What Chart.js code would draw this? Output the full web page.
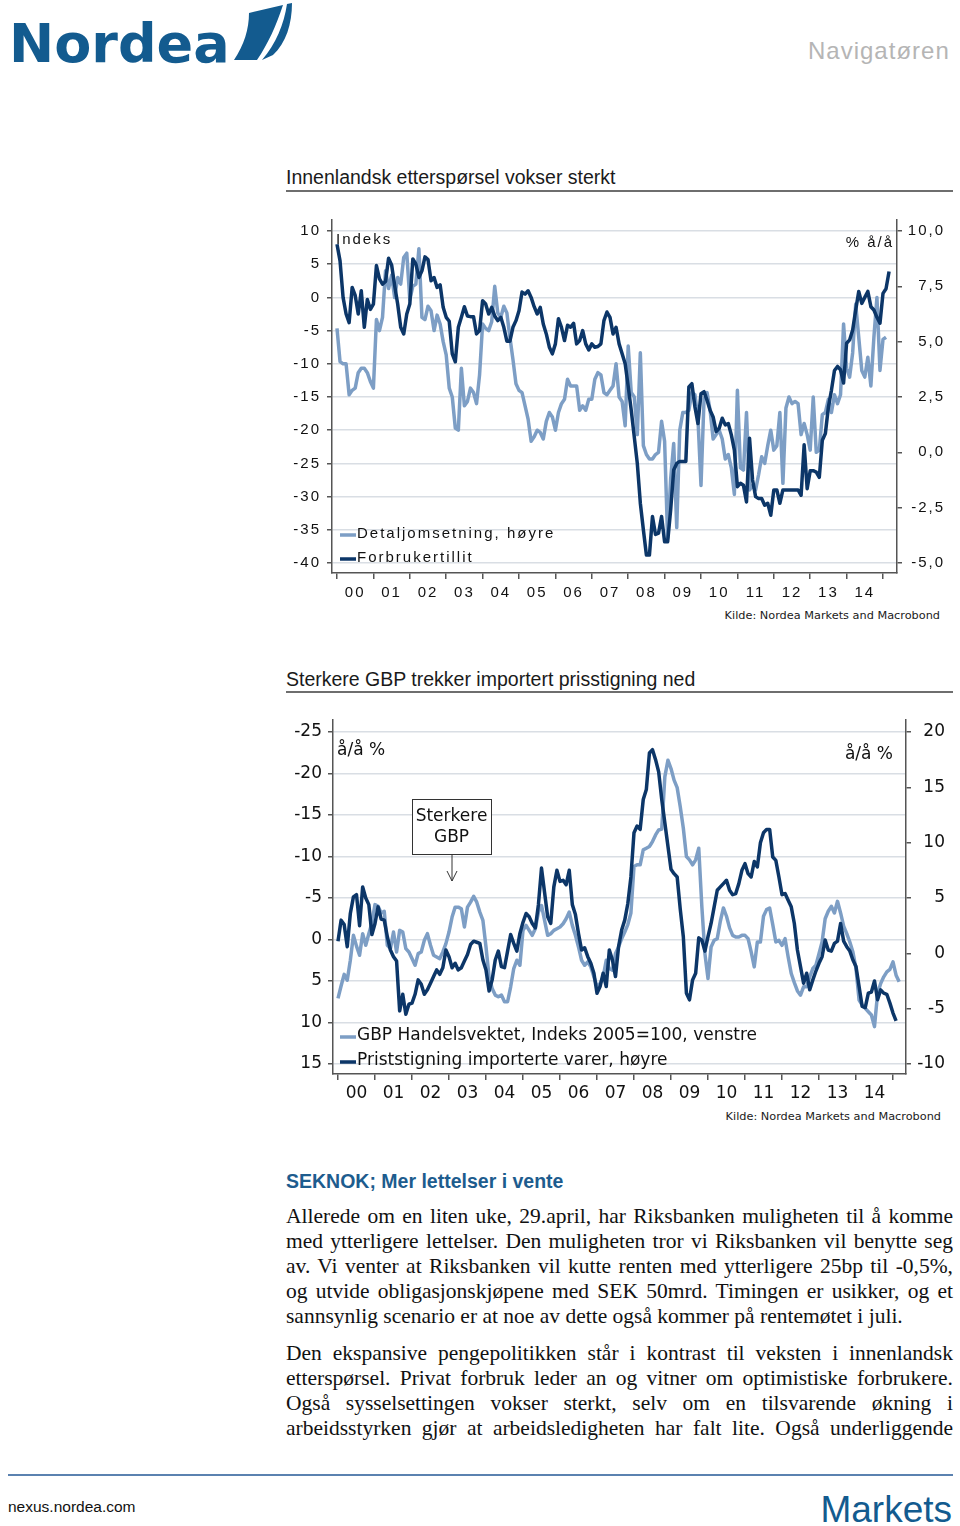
<!doctype html>
<html lang="no">
  <head>
    <meta charset="utf-8">
    <title>Navigatøren</title>
    <style>
      * {
        margin: 0;
        padding: 0;
      }
      body {
        width: 960px;
        height: 1526px;
        position: relative;
        overflow: hidden;
        background: #fff;
        color: #1a1a1a;
        font-family: 'Liberation Sans', Arial, sans-serif;
      }
      .abs {
        position: absolute;
        white-space: nowrap;
      }
      .title {
        left: 286px;
        font-size: 19.5px;
        line-height: 24px;
      }
      .rule {
        position: absolute;
        left: 286px;
        width: 667px;
        height: 2px;
        background: #6e6e6e;
      }
      .kilde {
        font-family: 'DejaVu Sans', Verdana, sans-serif;
        font-size: 11.3px;
        line-height: 14px;
      }
      .chart {
        position: absolute;
        left: 286px;
      }
      .lead {
        left: 286px;
        font-size: 19.5px;
        line-height: 24px;
        font-weight: bold;
        color: #1d5c8e;
      }
      .para {
        position: absolute;
        left: 286px;
        width: 667px;
        font-family: 'Liberation Serif', 'Times New Roman', serif;
        font-size: 21.5px;
        line-height: 25px;
        color: #111;
      }
      .para div {
        text-align: justify;
        text-align-last: justify;
      }
      .para div.end {
        text-align-last: left;
      }
    </style>
  </head>
  <body>
    <svg class="abs" style="left:0;top:0" width="960" height="80">
      <text x="9" y="62" font-family="'DejaVu Sans', sans-serif" font-weight="bold" font-size="54" fill="#135b8f">Nordea</text>
      <path d="M234 60 C244 45 249 29 249 13 L283 5 C276 26 268 44 257 60 Z" fill="#135b8f"/>
      <path d="M287 4 L292 3 C292 24 286 43 273 55 L262 60 C276 44 284 24 287 4 Z" fill="#135b8f"/>
      <text x="808" y="59" font-family="'Liberation Sans', Arial, sans-serif" font-size="24" letter-spacing="1" fill="#b5b5b5">Navigatøren</text>
    </svg>

    <div class="abs title" style="top:165px">Innenlandsk etterspørsel vokser sterkt</div>
    <div class="rule" style="top:190px"></div>
    <canvas id="chart1" class="chart" width="667" height="395" style="top:212px"></canvas>
    <div class="abs kilde" style="right:20px;top:609px">Kilde: Nordea Markets and Macrobond</div>

    <div class="abs title" style="top:667px">Sterkere GBP trekker importert prisstigning ned</div>
    <div class="rule" style="top:691px"></div>
    <canvas id="chart2" class="chart" width="667" height="396" style="top:712px"></canvas>
    <div class="abs kilde" style="right:19px;top:1110px">Kilde: Nordea Markets and Macrobond</div>

    <div class="abs lead" style="top:1169px">SEKNOK; Mer lettelser i vente</div>
    <div class="para" style="top:1204px">
      <div>Allerede om en liten uke, 29.april, har Riksbanken muligheten til å komme</div>
      <div>med ytterligere lettelser. Den muligheten tror vi Riksbanken vil benytte seg</div>
      <div>av. Vi venter at Riksbanken vil kutte renten med ytterligere 25bp til -0,5%,</div>
      <div>og utvide obligasjonskjøpene med SEK 50mrd. Timingen er usikker, og et</div>
      <div class="end">sannsynlig scenario er at noe av dette også kommer på rentemøtet i juli.</div>
    </div>
    <div class="para" style="top:1341px">
      <div>Den ekspansive pengepolitikken står i kontrast til veksten i innenlandsk</div>
      <div>etterspørsel. Privat forbruk leder an og vitner om optimistiske forbrukere.</div>
      <div>Også sysselsettingen vokser sterkt, selv om en tilsvarende økning i</div>
      <div>arbeidsstyrken gjør at arbeidsledigheten har falt lite. Også underliggende</div>
    </div>

    <div class="abs" style="left:8px;top:1474px;width:945px;height:2px;background:#5b82b0"></div>
    <svg class="abs" style="left:0;top:1480px" width="960" height="46">
      <text x="8" y="31.5" font-family="'Liberation Sans', Arial, sans-serif" font-size="15.5" fill="#111">nexus.nordea.com</text>
      <text x="952" y="42" text-anchor="end" font-family="'Liberation Sans', Arial, sans-serif" font-size="37" fill="#135b8f">Markets</text>
    </svg>

    <script src="https://cdn.jsdelivr.net/npm/chart.js"></script>
    <script>
    // monthly series, first value = January 2000
    const startYear = 2000;
    const yearLabels = ['00', '01', '02', '03', '04', '05', '06', '07', '08', '09', '10', '11', '12', '13', '14'];

    // chart 1: Forbrukertillit (indeks, left) and Detaljomsetning (% å/å, right)
    const forbrukertillit = [
      8.0, 5.5, 0.0, -2.5, -3.8, 1.5, 0.3, -2.5, 1.0, -4.5, -0.3, -1.8, -1.0, 4.8, 2.8, 2.0, 2.4, 5.9, 4.9, 1.8,
      -1.0, -4.5, -5.5, -2.5, -1.0, 5.8, 5.0, 3.0, 4.0, 6.1, 5.7, 2.5, 3.0, 1.5, 1.9, -1.5, -3.0, -3.6, -8.5, -9.7,
      -4.5, -3.0, -1.4, -2.8, -2.9, -2.9, -5.5, -5.0, -0.5, -1.0, -2.5, -1.5, -2.8, -3.5, -3.0, -4.5, -6.6, -6.6, -4.5, -3.5,
      -2.0, 0.8, 0.5, 1.0, 0.0, -1.4, -2.5, -1.5, -4.0, -5.5, -7.5, -8.5, -7.0, -3.2, -4.5, -6.5, -4.2, -4.5, -3.9, -7.0,
      -6.5, -5.0, -7.0, -7.9, -7.0, -7.5, -7.4, -7.0, -3.5, -2.2, -3.0, -5.5, -4.5, -7.0, -8.5, -10.0, -13.4, -17.0, -21.0, -25.0,
      -31.0, -35.0, -38.8, -38.8, -33.0, -35.7, -35.5, -33.0, -36.8, -36.8, -32.0, -26.0, -25.0, -24.7, -24.7, -24.7, -13.5, -13.0, -16.5, -19.0,
      -14.5, -14.2, -15.5, -17.0, -18.0, -20.2, -19.7, -18.2, -19.2, -19.0, -20.7, -23.0, -28.5, -28.0, -28.3, -30.8, -21.2, -27.5, -30.0, -30.3,
      -30.3, -31.3, -31.0, -32.8, -29.0, -29.0, -31.0, -29.0, -29.0, -29.0, -29.0, -29.0, -29.0, -29.8, -22.2, -28.8, -26.1, -26.1, -26.3, -27.1,
      -21.5, -20.5, -16.5, -14.0, -11.0, -10.4, -10.9, -12.9, -6.9, -6.4, -4.9, -1.9, 0.9, -0.9, 0.0, 0.9, -1.4, -1.9, -3.0, -3.9,
      0.6, 1.3, 3.9
    ];
    const detaljomsetning = [
      5.6, 4.1, 4.0, 4.0, 2.6, 2.8, 2.9, 3.6, 3.8, 3.8, 3.6, 3.2, 2.9, 6.0, 5.5, 6.1, 8.2, 7.4, 8.0, 7.0,
      7.9, 7.6, 8.8, 9.0, 6.9, 7.5, 7.6, 9.2, 6.1, 6.0, 6.6, 6.4, 5.5, 6.2, 5.8, 5.0, 4.4, 2.9, 2.5, 1.1,
      1.0, 3.8, 2.1, 2.3, 2.9, 2.7, 2.2, 3.5, 5.8, 5.6, 5.5, 5.9, 7.5, 6.3, 6.1, 6.6, 6.3, 5.2, 4.2, 3.1,
      2.8, 2.7, 2.1, 1.5, 0.5, 0.7, 1.0, 0.9, 0.6, 1.4, 1.8, 1.6, 1.0, 1.8, 2.2, 2.4, 3.3, 3.0, 3.0, 3.0,
      1.9, 2.1, 1.9, 2.4, 2.4, 3.3, 3.6, 3.5, 2.7, 2.6, 2.8, 3.0, 4.0, 2.5, 2.3, 1.2, 4.8, 2.7, 2.5, 0.8,
      4.5, 0.3, -0.1, -0.3, -0.3, -0.1, 0.0, 1.4, 0.5, -3.9, -1.2, 0.4, -3.4, 1.0, 1.8, 1.8, 1.9, 2.7, 2.6, 1.5,
      -1.5, 2.4, 2.7, 1.9, 0.6, 0.8, 1.0, 0.6, -0.3, -0.1, -0.7, -1.9, 2.8, -0.7, -0.8, 1.8, -1.7, -1.5, -1.7, -1.0,
      -0.2, -0.5, 0.3, 1.0, 0.1, 0.3, 1.8, -1.4, 2.0, 2.5, 2.2, 2.3, 2.2, 0.8, 1.3, 0.8, 0.1, 2.5, 0.0, 0.1,
      1.7, 1.8, 2.4, 1.8, 2.6, 2.2, 2.6, 5.8, 3.8, 3.4, 4.5, 6.7, 5.2, 3.7, 3.4, 4.3, 3.0, 5.2, 7.0, 3.7,
      5.1, 5.2
    ];
    const tillitTicks = [-40, -35, -30, -25, -20, -15, -10, -5, 0, 5, 10];
    const detaljTicks = [-5, -2.5, 0, 2.5, 5, 7.5, 10];

    // chart 2: GBP handelsvektet (left, inverted) and import prices (% å/å, right)
    const gbpIndeks = [
      7.1, 5.6, 4.2, 4.9, 2.5, -0.5, 0.8, 1.9, -0.7, 0.7, -0.7, -2.0, -4.2, -4.0, -3.2, -3.4, 0.7, 1.1, -0.9, 1.5,
      -1.1, -0.9, 1.1, 1.5, 2.3, 3.1, 1.7, 1.5, 0.1, -0.7, 0.7, 1.9, 2.1, 2.3, 1.5, 0.5, -0.9, -2.7, -3.9, -3.9,
      -3.7, -1.5, -3.9, -4.5, -5.2, -4.5, -3.3, -2.3, 0.9, 4.5, 5.9, 6.7, 6.9, 6.7, 7.5, 7.5, 5.7, 3.5, 2.5, 3.1,
      -1.1, -1.7, -1.1, -0.5, -1.3, -3.3, -4.1, -2.3, -0.5, -0.7, -1.1, -1.3, -1.5, -1.9, -2.5, -3.3, -1.7, -0.5, 0.9, 2.5,
      3.1, 2.7, 3.3, 4.5, 5.7, 5.3, 4.5, 2.5, 3.5, 3.7, 1.7, 0.9, -0.1, -0.9, -1.8, -3.2, -8.8, -9.0, -9.0, -10.8,
      -11.0, -11.2, -11.8, -12.6, -13.2, -13.3, -19.6, -21.6, -20.6, -19.2, -18.3, -16.0, -13.4, -10.0, -9.6, -9.0, -9.6, -11.0, -4.0, 1.7,
      4.7, 0.9, 0.1, -0.1, -2.2, -3.8, -2.8, -1.4, -0.5, -0.3, -0.3, -0.5, -0.5, -0.1, 1.5, 3.3, 0.3, 0.3, -2.8, -3.6,
      -3.8, -1.8, 0.3, 0.1, 0.7, -0.1, 2.1, 4.1, 5.2, 6.2, 6.7, 5.7, 5.7, 4.5, 3.5, 3.1, 1.7, 0.3, -2.5, -3.4,
      -4.0, -3.2, -4.6, -3.2, -1.6, -0.7, 0.3, 1.5, 3.5, 7.3, 7.9, 8.3, 8.7, 9.1, 10.5, 6.5, 5.3, 4.5, 3.9, 3.6,
      2.7, 4.3, 5.1
    ];
    const importPriser = [
      1.1, 3.0, 2.6, 0.6, 3.6, 5.1, 5.3, 2.5, 6.0, 5.0, 4.4, 1.7, 2.7, 4.2, 3.1, 3.0, 1.5, 0.3, -0.3, -0.7,
      -5.2, -3.7, -5.5, -4.6, -4.5, -3.7, -2.4, -2.8, -3.7, -3.3, -2.7, -2.1, -1.5, -1.9, -1.3, 0.3, -0.3, -1.3, -0.9, -1.5,
      -1.3, -0.7, -0.1, 0.8, 1.1, 1.0, 0.9, -0.6, -1.5, -3.4, -2.4, -0.6, 0.2, -1.2, -1.3, 0.2, 1.7, 0.9, 0.2, 1.8,
      2.8, 3.6, 3.3, 2.7, 2.3, 4.4, 7.7, 5.5, 3.3, 2.7, 6.0, 7.5, 6.5, 6.6, 6.2, 7.5, 4.4, 3.5, 1.8, 0.3,
      0.5, -0.3, -0.9, -1.8, -3.6, -3.0, -1.8, -3.0, 0.3, -0.6, -2.1, 0.6, 2.1, 3.0, 4.5, 6.9, 10.9, 11.5, 11.2, 13.9,
      14.8, 18.1, 18.4, 17.5, 16.4, 13.9, 11.8, 9.7, 7.6, 7.2, 6.9, 4.0, 1.5, -3.6, -4.2, -2.4, -1.8, 1.4, 1.2, 0.2,
      1.5, 2.7, 4.2, 5.7, 6.0, 6.3, 6.6, 5.7, 5.3, 5.4, 6.3, 7.5, 8.1, 7.2, 6.9, 8.3, 7.8, 10.0, 10.9, 11.2,
      11.2, 8.7, 8.4, 6.9, 5.3, 5.4, 4.8, 4.2, 2.7, 0.3, -1.2, -2.7, -1.8, -3.3, -2.4, -1.6, -0.9, -0.3, 1.2, 0.3,
      0.2, 0.9, 1.1, 2.7, 1.1, 0.6, 0.2, -0.6, -1.2, -3.0, -4.8, -4.9, -3.6, -3.5, -2.5, -4.2, -3.3, -3.6, -3.7, -4.5,
      -5.4, -6.1
    ];
    const gbpTicks = [-25, -20, -15, -10, -5, 0, 5, 10, 15];
    const importTicks = [-10, -5, 0, 5, 10, 15, 20];

    const dark = '#0c3668';
    const light = '#7d9ec5';
    const axisGrey = '#555';
    const gridGrey = '#d9dee4';

    // year boundaries get a tick mark, the mid-year ticks carry the label
    const xTicks = [];
    yearLabels.forEach((lab, i) => xTicks.push(startYear + i, startYear + i + 0.5));
    xTicks.push(startYear + yearLabels.length);

    function monthly(values) {
      return values.map((v, i) => ({ x: startYear + i / 12, y: v }));
    }
    function yearLabel(v) {
      const i = v - startYear - 0.5;
      return Number.isInteger(i) ? yearLabels[i] : '';
    }
    function fixTicks(list) {
      return scale => { scale.ticks = list.map(v => ({ value: v })); };
    }
    function fixSize(w, h) {
      return scale => {
        if (w) scale.width = w;
        if (h) scale.height = h;
        scale.paddingTop = 0; scale.paddingBottom = 0;
        scale.paddingLeft = 0; scale.paddingRight = 0;
      };
    }

    // unit labels, legend inside the plot, optional callout box
    function makeNotes(cfg) {
      return {
        id: 'notes',
        beforeDraw(chart) {
          chart.ctx.letterSpacing = cfg.spacing;
        },
        afterDraw(chart) {
          const { ctx, chartArea: a } = chart;
          ctx.save();
          ctx.letterSpacing = cfg.spacing;
          ctx.font = cfg.font;
          ctx.fillStyle = '#111';
          ctx.textBaseline = 'middle';
          ctx.textAlign = 'left';
          ctx.fillText(cfg.unitLeft.text, a.left + cfg.unitLeft.dx, a.top + cfg.unitLeft.dy);
          ctx.textAlign = 'right';
          ctx.fillText(cfg.unitRight.text, a.right - cfg.unitRight.dx, a.top + cfg.unitRight.dy);
          ctx.textAlign = 'left';
          chart.data.datasets.forEach((ds, k) => {
            const y = a.bottom - cfg.legend.bottom + k * cfg.legend.gap;
            ctx.strokeStyle = ds.borderColor;
            ctx.lineWidth = 3.5;
            ctx.beginPath();
            ctx.moveTo(a.left + cfg.legend.left, y + 1);
            ctx.lineTo(a.left + cfg.legend.left + 16, y + 1);
            ctx.stroke();
            ctx.fillText(ds.label, a.left + cfg.legend.left + 17, y);
          });
          if (cfg.box) {
            const b = cfg.box;
            const x0 = a.left + b.left;
            const y0 = a.top + b.top;
            ctx.fillStyle = '#fff';
            ctx.fillRect(x0, y0, b.w, b.h);
            ctx.strokeStyle = '#333';
            ctx.lineWidth = 1;
            ctx.strokeRect(x0 + 0.5, y0 + 0.5, b.w, b.h);
            ctx.fillStyle = '#111';
            ctx.textAlign = 'center';
            b.lines.forEach((t, k) => ctx.fillText(t, x0 + b.w / 2, y0 + 18 + k * 21));
            const ax = x0 + b.w / 2 + 0.5;
            ctx.beginPath();
            ctx.moveTo(ax, y0 + b.h);
            ctx.lineTo(ax, y0 + b.h + 27);
            ctx.moveTo(ax - 5, y0 + b.h + 17);
            ctx.lineTo(ax, y0 + b.h + 27);
            ctx.lineTo(ax + 5, y0 + b.h + 17);
            ctx.stroke();
          }
          ctx.restore();
        }
      };
    }

    function xAxis(min, max, padding, font) {
      return {
        type: 'linear',
        min: min,
        max: max,
        afterBuildTicks: fixTicks(xTicks),
        afterFit: fixSize(0, 34),
        ticks: { autoSkip: false, maxRotation: 0, padding: padding, color: '#111', font: font, callback: yearLabel },
        grid: {
          drawOnChartArea: false,
          tickLength: 6,
          lineWidth: 1.5,
          tickColor: c => Number.isInteger(c.tick.value) ? axisGrey : 'rgba(0,0,0,0)'
        },
        border: { color: axisGrey, width: 1.5 }
      };
    }

    Chart.defaults.animation = false;
    Chart.defaults.color = '#111';

    // chart 1
    const arial = "'Liberation Sans', Arial, sans-serif";
    new Chart(document.getElementById('chart1'), {
      type: 'line',
      data: {
        datasets: [
          { label: 'Detaljomsetning, høyre', data: monthly(detaljomsetning), yAxisID: 'yRight',
            borderColor: light, borderWidth: 3.5, pointRadius: 0, order: 1, borderJoinStyle: 'round' },
          { label: 'Forbrukertillit', data: monthly(forbrukertillit), yAxisID: 'yLeft',
            borderColor: dark, borderWidth: 3.5, pointRadius: 0, order: 0, borderJoinStyle: 'round' }
        ]
      },
      options: {
        responsive: false,
        devicePixelRatio: 1,
        layout: { padding: { top: 8, right: 8, left: 0, bottom: 0 } },
        plugins: { legend: { display: false }, tooltip: { enabled: false } },
        scales: {
          x: xAxis(1999.8626, 2015.3846, 5, { family: arial, size: 15 }),
          yLeft: {
            position: 'left',
            min: -41.506,
            max: 11.657,
            afterBuildTicks: fixTicks(tillitTicks),
            afterFit: fixSize(46, 0),
            ticks: { padding: 6, color: '#111', font: { family: arial, size: 15 } },
            grid: { color: gridGrey, lineWidth: 1.5, tickLength: 5, tickColor: axisGrey },
            border: { color: axisGrey, width: 1.5 }
          },
          yRight: {
            position: 'right',
            min: -5.452,
            max: 10.497,
            afterBuildTicks: fixTicks(detaljTicks),
            afterFit: fixSize(48, 0),
            ticks: {
              crossAlign: 'far', color: '#111',
              font: { family: arial, size: 15 },
              callback: v => v.toFixed(1).replace('.', ',')
            },
            grid: { drawOnChartArea: false, tickLength: 5, color: axisGrey, lineWidth: 1.5 },
            border: { color: axisGrey, width: 1.5 }
          }
        }
      },
      plugins: [makeNotes({
        font: "15px 'Liberation Sans', Arial, sans-serif",
        spacing: '2px',
        unitLeft: { text: 'Indeks', dx: 4, dy: 20 },
        unitRight: { text: '% å/å', dx: 3, dy: 23 },
        legend: { left: 8, bottom: 39, gap: 24 }
      })]
    });

    // chart 2
    const verdana = "'DejaVu Sans', Verdana, sans-serif";
    new Chart(document.getElementById('chart2'), {
      type: 'line',
      data: {
        datasets: [
          { label: 'GBP Handelsvektet, Indeks 2005=100, venstre', data: monthly(gbpIndeks), yAxisID: 'yLeft',
            borderColor: light, borderWidth: 3.5, pointRadius: 0, order: 1, borderJoinStyle: 'round' },
          { label: 'Priststigning importerte varer, høyre', data: monthly(importPriser), yAxisID: 'yRight',
            borderColor: dark, borderWidth: 3.5, pointRadius: 0, order: 0, borderJoinStyle: 'round' }
        ]
      },
      options: {
        responsive: false,
        devicePixelRatio: 1,
        layout: { padding: { top: 8, right: 8, left: 0, bottom: 0 } },
        plugins: { legend: { display: false }, tooltip: { enabled: false } },
        scales: {
          x: xAxis(1999.8649, 2015.3514, 3, { family: verdana, size: 17 }),
          yLeft: {
            position: 'left',
            reverse: true,
            min: -26.446,
            max: 16.205,
            afterBuildTicks: fixTicks(gbpTicks),
            afterFit: fixSize(47, 0),
            ticks: { padding: 6, color: '#111', font: { family: verdana, size: 17 } },
            grid: { color: gridGrey, lineWidth: 1.5, tickLength: 5, tickColor: axisGrey },
            border: { color: axisGrey, width: 1.5 }
          },
          yRight: {
            position: 'right',
            min: -10.904,
            max: 21.084,
            afterBuildTicks: fixTicks(importTicks),
            afterFit: fixSize(39, 0),
            ticks: { crossAlign: 'far', color: '#111', font: { family: verdana, size: 17 } },
            grid: { drawOnChartArea: false, tickLength: 5, color: axisGrey, lineWidth: 1.5 },
            border: { color: axisGrey, width: 1.5 }
          }
        }
      },
      plugins: [makeNotes({
        font: "17px 'DejaVu Sans', Verdana, sans-serif",
        spacing: '0px',
        unitLeft: { text: 'å/å %', dx: 4, dy: 31 },
        unitRight: { text: 'å/å %', dx: 13, dy: 35 },
        legend: { left: 7, bottom: 38, gap: 25 },
        box: { left: 79, top: 79, w: 79, h: 55, lines: ['Sterkere', 'GBP'] }
      })]
    });
    </script>
  </body>
</html>
